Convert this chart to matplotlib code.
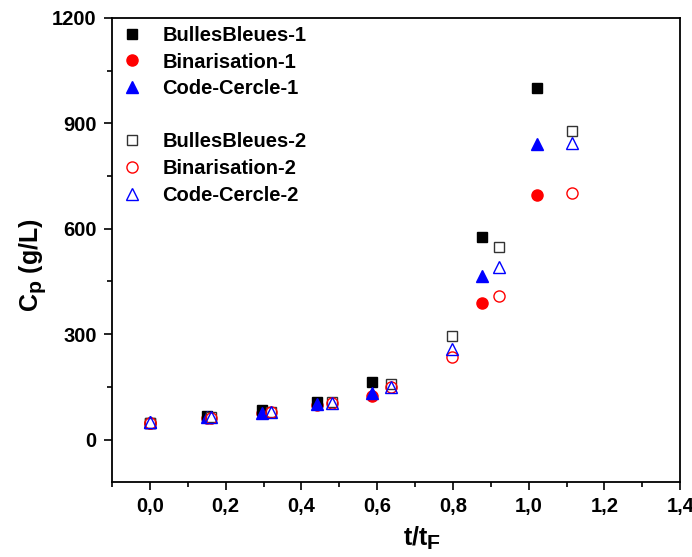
import matplotlib
matplotlib.use("Agg")
import matplotlib.pyplot as plt
from matplotlib.lines import Line2D
from matplotlib.ticker import MultipleLocator, FixedLocator, FixedFormatter
try:
    import matplotlib._mathtext as _mt
    _mt.SHRINK_FACTOR = 0.85
except Exception:
    pass

plt.rcParams['font.family'] = ['Liberation Sans', 'DejaVu Sans']
plt.rcParams['font.weight'] = 'bold'
plt.rcParams['mathtext.fontset'] = 'custom'
plt.rcParams['mathtext.rm'] = 'Liberation Sans:bold'
plt.rcParams['mathtext.it'] = 'Liberation Sans:bold'
plt.rcParams['mathtext.bf'] = 'Liberation Sans:bold'

# Series 1 (filled markers)
x1 = [0.0, 0.15, 0.295, 0.44, 0.587, 0.877, 1.023]
bulles1 = [48, 66, 83, 108, 163, 577, 1000]
binar1 = [47, 62, 77, 99, 123, 388, 697]
cercle1 = [49, 63, 77, 100, 134, 465, 840]

# Series 2 (open markers)
x2 = [0.0, 0.161, 0.32, 0.48, 0.637, 0.797, 0.922, 1.115]
bulles2 = [48, 63, 80, 106, 157, 294, 548, 877]
binar2 = [48, 62, 78, 104, 150, 234, 409, 703]
cercle2 = [50, 63, 78, 104, 151, 259, 491, 843]

xticks = [0.0, 0.2, 0.4, 0.6, 0.8, 1.0, 1.2, 1.4]
xticklabels = ['0,0', '0,2', '0,4', '0,6', '0,8', '1,0', '1,2', '1,4']
yticks = [0, 300, 600, 900, 1200]
yticklabels = ['0', '300', '600', '900', '1200']

fig = plt.figure(figsize=(6.92, 5.57), dpi=100)
ax = fig.add_axes([0.162, 0.135, 0.821, 0.833])

h_b1, = ax.plot(x1, bulles1, linestyle='none', marker='s', ms=7, color='black', label='BullesBleues-1', zorder=3)
h_c1, = ax.plot(x1, binar1, linestyle='none', marker='o', ms=8, color='red', label='Binarisation-1', zorder=2)
h_t1, = ax.plot(x1, cercle1, linestyle='none', marker='^', ms=9, color='blue', label='Code-Cercle-1', zorder=4)
h_b2, = ax.plot(x2, bulles2, linestyle='none', marker='s', ms=7, mfc='white', mec='#333333', mew=1.0, label='BullesBleues-2', zorder=5)
h_c2, = ax.plot(x2, binar2, linestyle='none', marker='o', ms=8, mfc='none', mec='red', mew=1.0, label='Binarisation-2', zorder=5)
h_t2, = ax.plot(x2, cercle2, linestyle='none', marker='^', ms=9, mfc='none', mec='blue', mew=1.0, label='Code-Cercle-2', zorder=6)

ax.set_xlim(-0.1, 1.4)
ax.set_ylim(-120, 1200)

ax.xaxis.set_major_locator(FixedLocator(xticks))
ax.xaxis.set_major_formatter(FixedFormatter(xticklabels))
ax.xaxis.set_minor_locator(MultipleLocator(0.1))
ax.yaxis.set_major_locator(FixedLocator(yticks))
ax.yaxis.set_major_formatter(FixedFormatter(yticklabels))
ax.yaxis.set_minor_locator(MultipleLocator(150))

ax.tick_params(which='both', direction='out', top=False, right=False, width=1.2)
ax.tick_params(which='major', length=6, labelsize=14.5, pad=5)
ax.tick_params(which='minor', length=3.5)
for lab in ax.get_xticklabels() + ax.get_yticklabels():
    lab.set_fontweight('bold')
for s in ax.spines.values():
    s.set_linewidth(1.3)

ax.set_xlabel(r'$\mathrm{t/t_F}$', fontsize=18)
ax.xaxis.set_label_coords(0.546, -0.092)
ax.set_ylabel(r'$\mathrm{C_p}$ (g/L)', fontsize=18, fontweight='bold')
ax.yaxis.set_label_coords(-0.112, 0.468)

blank = Line2D([], [], linestyle='none', marker='none')
handles = [h_b1, h_c1, h_t1, blank, h_b2, h_c2, h_t2]
labels = ['BullesBleues-1', 'Binarisation-1', 'Code-Cercle-1', ' ',
          'BullesBleues-2', 'Binarisation-2', 'Code-Cercle-2']
leg = ax.legend(handles, labels, loc='upper left', frameon=False,
                handlelength=1.2, handletextpad=0.9, labelspacing=0.38,
                borderaxespad=0.0, prop={'weight': 'bold', 'size': 14.5})

fig.savefig('out.png', dpi=100)
